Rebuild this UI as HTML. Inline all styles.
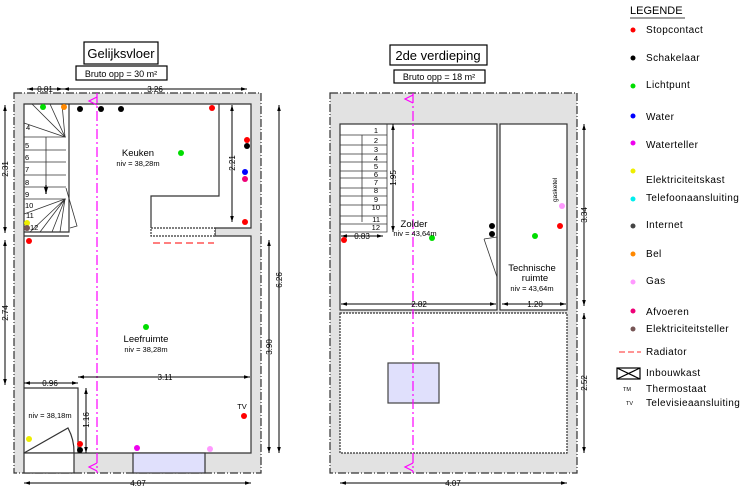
<!DOCTYPE html>
<html><head><meta charset="utf-8"><style>
html,body{margin:0;padding:0;background:#fff;}
svg{display:block;font-family:"Liberation Sans",sans-serif;}
</style></head><body>
<svg width="750" height="489" viewBox="0 0 750 489" xmlns="http://www.w3.org/2000/svg">
<defs>
<marker id="a" viewBox="0 0 10 10" refX="10" refY="5" markerWidth="6" markerHeight="6" orient="auto-start-reverse"><path d="M0,2 L10,5 L0,8z" fill="#000"/></marker>
</defs>
<g stroke="#000" fill="none" stroke-width="1.2">
<path d="M14,93 H261 V473 H14 Z" fill="#e2e2e2" stroke-dasharray="8,2,1,2" stroke="#333"/>
<path d="M24,104 H251 V228 H215 V236 H251 V453 H24 Z" fill="#fff" stroke="#333"/>
<rect x="24" y="453" width="50" height="20" fill="#fff" stroke="#333"/>
<rect x="133" y="453" width="72" height="20" fill="#e0e0fc" stroke="#333"/>
<path d="M219,104 V196 H151 V228" stroke="#333"/>
<rect x="151" y="228" width="64" height="8" fill="#fff" stroke="#333" stroke-dasharray="2,1"/>
<path d="M24,232 H69 V104" stroke="#333"/>
<path d="M24,236 H69" stroke="#333"/>
<g stroke="#333" stroke-width="0.8">
<path d="M24,137 H66 M24,150 H66 M24,162 H66 M24,175 H66 M24,187 H66 M24,199 H66"/>
<path d="M65,137 L24,123 M65,137 L32,104 M65,137 L50,104 M65,137 L62,104"/>
<path d="M65,199 L24,214 M65,199 L30,232 M65,199 L40,232 M65,199 L52,232 M65,199 L60,232"/>
<path d="M46,137 V193"/>
<path d="M66,188 L77,226 L70,228"/>
</g>
<path d="M46,185 V194" marker-end="url(#a)"/>
<path d="M24,388 H78 V453" stroke="#333"/>
<path d="M24,453 L68,428 A50,50 0 0 1 74,453" stroke="#333"/>
<path d="M153,243 H214" stroke="#f33" stroke-width="1.3" stroke-dasharray="7,4"/>
<path d="M97,93 V473" stroke="#f0f" stroke-dasharray="10,3,2,3"/>
<path d="M97,97 L89,101 L97,105" stroke="#f0f"/>
<path d="M97,463 L89,467 L97,471" stroke="#f0f"/>
<g stroke-width="1">
<path d="M27,89 H63" marker-start="url(#a)" marker-end="url(#a)"/>
<path d="M63,89 H247" marker-start="url(#a)" marker-end="url(#a)"/>
<path d="M5,105 V233" marker-start="url(#a)" marker-end="url(#a)"/>
<path d="M5,240 V385" marker-start="url(#a)" marker-end="url(#a)"/>
<path d="M232,105 V222" marker-start="url(#a)" marker-end="url(#a)"/>
<path d="M279,105 V453" marker-start="url(#a)" marker-end="url(#a)"/>
<path d="M269,240 V453" marker-start="url(#a)" marker-end="url(#a)"/>
<path d="M78,377 H250" marker-start="url(#a)" marker-end="url(#a)"/>
<path d="M24,383 H78" marker-start="url(#a)" marker-end="url(#a)"/>
<path d="M86,388 V453" marker-start="url(#a)" marker-end="url(#a)"/>
<path d="M24,483 H251" marker-start="url(#a)" marker-end="url(#a)"/>
</g>
<rect x="84" y="42" width="74" height="22"/>
<rect x="76" y="66" width="91" height="14"/>

<path d="M330,93 H577 V473 H330 Z" fill="#e2e2e2" stroke-dasharray="8,2,1,2" stroke="#333"/>
<rect x="340" y="124" width="157" height="186" fill="#fff" stroke="#333"/>
<rect x="500" y="124" width="67" height="186" fill="#fff" stroke="#333"/>
<rect x="340" y="313" width="227" height="140" fill="#fff" stroke="#333" stroke-dasharray="2,1"/>
<rect x="388" y="363" width="51" height="40" fill="#e0e0fc" stroke="#444"/>
<g stroke="#333" stroke-width="0.8">
<path d="M387,124 V232 H340"/>
<path d="M340,135 H387 M340,145 H387 M340,154 H387 M340,162 H387 M340,171 H387 M340,178 H387 M340,188 H387 M340,196 H387 M340,205 H387 M340,216 H387 M340,224 H387"/>
<path d="M362,135 V222"/>
<path d="M484,239 L497,237 M484,239 L497,277"/>
</g>
<path d="M413,93 V473" stroke="#f0f" stroke-dasharray="10,3,2,3"/>
<path d="M413,95 L405,99 L413,103" stroke="#f0f"/>
<path d="M413,463 L405,467 L413,471" stroke="#f0f"/>
<g stroke-width="1">
<path d="M393,124 V232" marker-start="url(#a)" marker-end="url(#a)"/>
<path d="M341,236 H383" marker-start="url(#a)" marker-end="url(#a)"/>
<path d="M341,304 H496" marker-start="url(#a)" marker-end="url(#a)"/>
<path d="M502,304 H566" marker-start="url(#a)" marker-end="url(#a)"/>
<path d="M584,124 V306" marker-start="url(#a)" marker-end="url(#a)"/>
<path d="M584,313 V453" marker-start="url(#a)" marker-end="url(#a)"/>
<path d="M340,483 H567" marker-start="url(#a)" marker-end="url(#a)"/>
</g>
<rect x="390" y="45" width="97" height="20"/>
<rect x="394" y="70" width="91" height="13"/>
<path d="M619,352 H641" stroke="#f55" stroke-dasharray="6,3" stroke-width="1.3"/>
<rect x="617" y="368" width="23" height="11"/>
<path d="M617,368 L640,379 M640,368 L617,379"/>
<path d="M630,18 H685" stroke-width="0.8"/>
</g>

<g>
<circle cx="43" cy="107" r="3" fill="#0d0"/><circle cx="64" cy="107" r="3" fill="#f80"/>
<circle cx="80" cy="109" r="3" fill="#000"/><circle cx="101" cy="109" r="3" fill="#000"/><circle cx="121" cy="109" r="3" fill="#000"/>
<circle cx="212" cy="108" r="3" fill="#f00"/><circle cx="181" cy="153" r="3" fill="#0d0"/>
<circle cx="247" cy="140" r="3" fill="#f00"/><circle cx="247" cy="146" r="3" fill="#000"/>
<circle cx="245" cy="172" r="3" fill="#00f"/><circle cx="245" cy="179" r="3" fill="#e07"/>
<circle cx="245" cy="222" r="3" fill="#f00"/><circle cx="27" cy="223" r="3" fill="#ee0"/>
<circle cx="27" cy="228" r="3" fill="#755"/><circle cx="29" cy="241" r="3" fill="#f00"/>
<circle cx="146" cy="327" r="3" fill="#0d0"/><circle cx="244" cy="416" r="3" fill="#f00"/>
<circle cx="29" cy="439" r="3" fill="#ee0"/><circle cx="80" cy="444" r="3" fill="#f00"/><circle cx="80" cy="450" r="3" fill="#000"/>
<circle cx="137" cy="448" r="3" fill="#e0e"/><circle cx="210" cy="449" r="3" fill="#f9f"/>
<circle cx="344" cy="240" r="3" fill="#f00"/><circle cx="432" cy="238" r="3" fill="#0d0"/>
<circle cx="492" cy="226" r="3" fill="#000"/><circle cx="492" cy="234" r="3" fill="#000"/>
<circle cx="535" cy="236" r="3" fill="#0d0"/><circle cx="560" cy="226" r="3" fill="#f00"/><circle cx="562" cy="206" r="3" fill="#f9f"/>
<circle cx="633" cy="30" r="2.5" fill="#f00"/><circle cx="633" cy="58" r="2.5" fill="#000"/>
<circle cx="633" cy="86" r="2.5" fill="#0d0"/><circle cx="633" cy="116" r="2.5" fill="#00f"/>
<circle cx="633" cy="143" r="2.5" fill="#e0e"/><circle cx="633" cy="171" r="2.5" fill="#ee0"/>
<circle cx="633" cy="199" r="2.5" fill="#0ee"/><circle cx="633" cy="226" r="2.5" fill="#444"/>
<circle cx="633" cy="254" r="2.5" fill="#f80"/><circle cx="633" cy="282" r="2.5" fill="#f9f"/>
<circle cx="633" cy="311" r="2.5" fill="#e07"/><circle cx="633" cy="329" r="2.5" fill="#755"/>
</g>

<g font-size="8" fill="#000">
<text x="121" y="58" font-size="13" text-anchor="middle">Gelijksvloer</text>
<text x="121" y="77" font-size="9" text-anchor="middle">Bruto opp = 30 m²</text>
<text x="438" y="60" font-size="13" text-anchor="middle">2de verdieping</text>
<text x="439" y="80" font-size="9" text-anchor="middle">Bruto opp = 18 m²</text>
<text x="138" y="156" font-size="9.5" text-anchor="middle">Keuken</text>
<text x="138" y="166" font-size="7.5" text-anchor="middle">niv = 38,28m</text>
<text x="146" y="342" font-size="9.5" text-anchor="middle">Leefruimte</text>
<text x="146" y="352" font-size="7.5" text-anchor="middle">niv = 38,28m</text>
<text x="50" y="418" font-size="7.5" text-anchor="middle">niv = 38,18m</text>
<text x="242" y="409" font-size="7.5" text-anchor="middle">TV</text>
<text x="414" y="227" font-size="9.5" text-anchor="middle">Zolder</text>
<text x="415" y="236" font-size="7.5" text-anchor="middle">niv = 43,64m</text>
<text x="532" y="271" font-size="9.5" text-anchor="middle">Technische</text>
<text x="535" y="281" font-size="9.5" text-anchor="middle">ruimte</text>
<text x="532" y="291" font-size="7.5" text-anchor="middle">niv = 43,64m</text>
<text transform="translate(557,202) rotate(-90)" font-size="6.5">gasketel</text>
<g font-size="8" text-anchor="middle">
<text x="45" y="92">0.81</text><text x="155" y="92">3.26</text>
<text x="165" y="380">3.11</text><text x="50" y="386">0.96</text>
<text x="138" y="486">4.07</text><text x="453" y="486">4.07</text>
<text x="419" y="307">2.82</text><text x="535" y="307">1.20</text><text x="362" y="239">0.83</text>
<text transform="translate(8,169) rotate(-90)">2.31</text>
<text transform="translate(8,313) rotate(-90)">2.74</text>
<text transform="translate(235,163) rotate(-90)">2.21</text>
<text transform="translate(282,280) rotate(-90)">6.26</text>
<text transform="translate(272,347) rotate(-90)">3.90</text>
<text transform="translate(89,420) rotate(-90)">1.16</text>
<text transform="translate(396,178) rotate(-90)">1.95</text>
<text transform="translate(587,215) rotate(-90)">3.34</text>
<text transform="translate(587,383) rotate(-90)">2.52</text>
</g>
<g font-size="7.5">
<text x="25" y="148">5</text><text x="25" y="160">6</text><text x="25" y="172">7</text><text x="25" y="185">8</text><text x="25" y="197">9</text><text x="25" y="208">10</text>
<text x="26" y="218">11</text><text x="30" y="230">12</text><text x="26" y="130">4</text>
</g>
<g font-size="7.5" text-anchor="end">
<text x="378" y="133">1</text><text x="378" y="143">2</text><text x="378" y="152">3</text><text x="378" y="161">4</text><text x="378" y="169">5</text><text x="378" y="177">6</text>
<text x="378" y="185">7</text><text x="378" y="193">8</text><text x="378" y="202">9</text><text x="380" y="210">10</text><text x="380" y="222">11</text><text x="380" y="230">12</text>
</g>
<text x="630" y="14" font-size="11">LEGENDE</text>
<g font-size="10" letter-spacing="0.4">
<text x="646" y="33">Stopcontact</text><text x="646" y="61">Schakelaar</text><text x="646" y="88">Lichtpunt</text>
<text x="646" y="120">Water</text><text x="646" y="148">Waterteller</text><text x="646" y="183">Elektriciteitskast</text>
<text x="646" y="201">Telefoonaansluiting</text><text x="646" y="228">Internet</text><text x="646" y="257">Bel</text>
<text x="646" y="284">Gas</text><text x="646" y="315">Afvoeren</text><text x="646" y="332">Elektriciteitsteller</text>
<text x="646" y="355">Radiator</text><text x="646" y="376">Inbouwkast</text><text x="646" y="392">Thermostaat</text><text x="646" y="406">Televisieaansluiting</text>
</g>
<text x="623" y="391" font-size="5.5">TM</text><text x="626" y="405" font-size="5.5">TV</text>
</g>
</svg>
</body></html>
